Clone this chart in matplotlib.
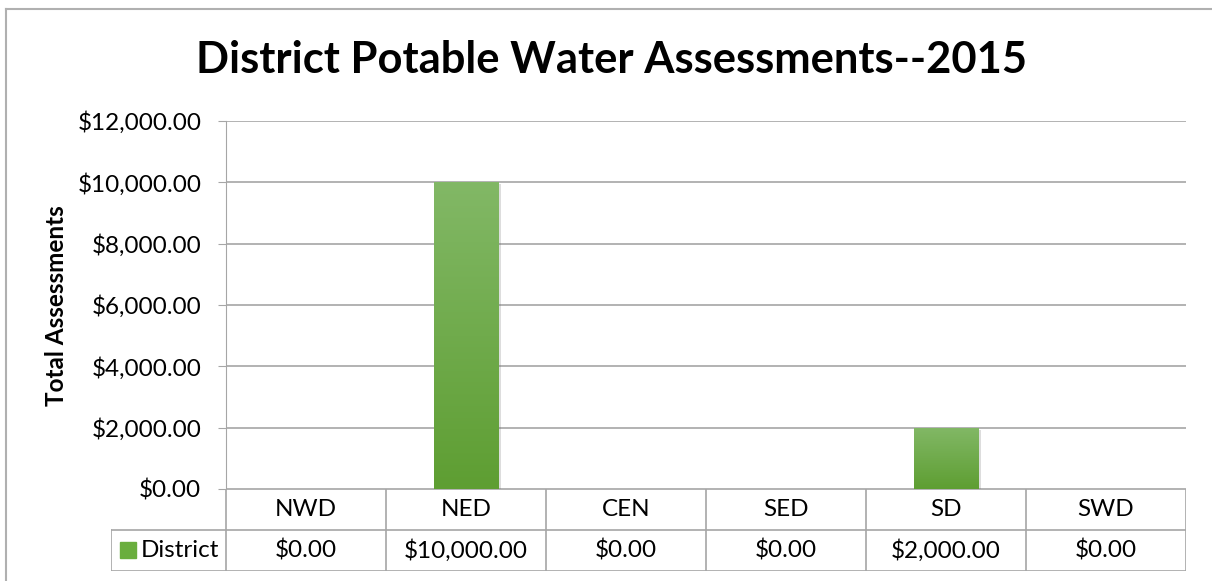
"""
District potable water assessments, 2015 -- column chart with an
Excel-style data table under the category axis.
"""

import matplotlib
matplotlib.use("Agg")
import matplotlib.pyplot as plt
import matplotlib.patheffects as pe
import numpy as np
from matplotlib.colors import LinearSegmentedColormap
from matplotlib.lines import Line2D
from matplotlib.patches import Rectangle

districts = ["NWD", "NED", "CEN", "SED", "SD", "SWD"]
assessments = [0.0, 10000.0, 0.0, 0.0, 2000.0, 0.0]
series_name = "District"
y_ticks = [0, 2000, 4000, 6000, 8000, 10000, 12000]

W, H = 1212, 581
FONT = "Lato"
FS = 17.5
GRID = "#a6a6a6"
GREEN_TOP = "#82b866"
GREEN_BOT = "#5e9e32"
GREEN_KEY = "#6aae3e"


def money(v):
    return f"${v:,.2f}"


def px_rect(x0, y0, x1, y1):
    # pixel box (top-left origin) -> figure fraction [l, b, w, h]
    return [x0 / W, 1 - y1 / H, (x1 - x0) / W, (y1 - y0) / H]


plt.rcParams["font.family"] = [FONT, "DejaVu Sans"]
fig = plt.figure(figsize=(W / 100, H / 100), dpi=100)

# outer chart frame (left and top edges are what show in the crop)
fig.add_artist(Line2D([6 / W, 6 / W], [0, 1 - 9 / H], color="#b0b0b0", lw=1.5))
fig.add_artist(Line2D([6 / W, 1], [1 - 9 / H, 1 - 9 / H], color="#b0b0b0", lw=1.5))

fig.text(611 / W, 1 - 60 / H, "District Potable Water Assessments--2015",
         ha="center", va="center", fontsize=31.3, fontweight="bold")
fig.text(57 / W, 1 - 306 / H, "Total Assessments", rotation=90,
         ha="center", va="center", fontsize=FS, fontweight="bold")

# ---- plot area --------------------------------------------------------
ax = fig.add_axes(px_rect(226, 121, 1186, 489))
ax.set_xlim(0, len(districts))
ax.set_ylim(0, 12000)
for s in ["top", "right", "bottom"]:
    ax.spines[s].set_visible(False)
ax.spines["left"].set_color(GRID)
ax.set_yticks(y_ticks)
ax.set_yticklabels([money(v) for v in y_ticks], fontsize=FS)
ax.tick_params(axis="y", length=5.8, color=GRID, pad=12)
ax.set_xticks([])
ax.grid(axis="y", color=GRID, lw=1.2)
ax.set_axisbelow(True)

cmap = LinearSegmentedColormap.from_list("grn", [GREEN_BOT, GREEN_TOP])
grad = np.linspace(0, 1, 256).reshape(-1, 1)
xpos = np.arange(len(districts)) + 0.5
bars = ax.bar(xpos, assessments, width=0.406, color=GREEN_KEY, zorder=3,
              path_effects=[pe.SimplePatchShadow(offset=(1.5, -1.5), alpha=0.22,
                                                 shadow_rgbFace="#666666"),
                            pe.Normal()])
for b in bars:
    if b.get_height() <= 0:
        continue
    x0, w, h = b.get_x(), b.get_width(), b.get_height()
    im = ax.imshow(grad, cmap=cmap, origin="lower", aspect="auto",
                   extent=(x0, x0 + w, 0, h), zorder=4)
    im.set_clip_path(b)
ax.set_xlim(0, len(districts))
ax.set_ylim(0, 12000)

# ---- data table -------------------------------------------------------
col_w = 160.0
key_left = -(226 - 111) / col_w
tab = fig.add_axes(px_rect(111, 489, 1186, 571))
tab.set_xlim(key_left, len(districts))
tab.set_ylim(0, 2)
tab.axis("off")

n = len(districts)
# horizontal rules
tab.plot([0, n], [2, 2], color=GRID, lw=1.2)
tab.plot([key_left, n], [1, 1], color=GRID, lw=1.2)
tab.plot([key_left, n], [0, 0], color=GRID, lw=1.2)
# vertical rules
tab.plot([key_left, key_left], [0, 1], color=GRID, lw=1.2)
for i in range(n + 1):
    tab.plot([i, i], [0, 2], color=GRID, lw=1.2)

for i, (d, v) in enumerate(zip(districts, assessments)):
    tab.text(i + 0.5, 1.5, d, ha="center", va="center", fontsize=FS)
    tab.text(i + 0.5, 0.5, money(v), ha="center", va="center", fontsize=FS)

key_x = (120 - 111) / col_w + key_left
tab.add_patch(Rectangle((key_x, 0.31), 16 / col_w, 0.39, color=GREEN_KEY,
                        transform=tab.transData, clip_on=False))
tab.text((141 - 111) / col_w + key_left, 0.5, series_name, ha="left",
         va="center", fontsize=FS)

fig.savefig("out.png", dpi=100)
